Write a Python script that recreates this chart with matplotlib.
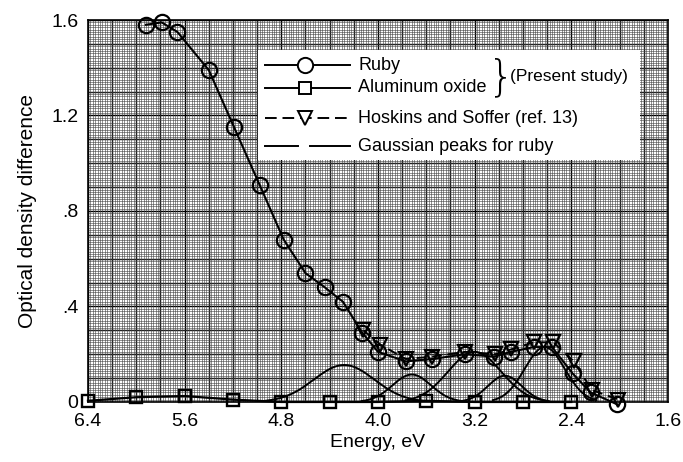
import numpy as np
import matplotlib
matplotlib.use('Agg')
import matplotlib.pyplot as plt
from matplotlib.ticker import MultipleLocator
from matplotlib.lines import Line2D
from matplotlib.patches import Rectangle

plt.rcParams['font.family'] = ['Liberation Sans', 'DejaVu Sans']

# Ruby (present study)
ruby_energy = [5.92, 5.79, 5.66, 5.40, 5.19, 4.98, 4.78, 4.60, 4.44, 4.29, 4.13,
               4.00, 3.77, 3.55, 3.28, 3.04, 2.90, 2.71, 2.56, 2.39, 2.24, 2.02]
ruby_od = [1.58, 1.59, 1.55, 1.39, 1.15, 0.91, 0.68, 0.54, 0.48, 0.42, 0.29,
           0.21, 0.17, 0.18, 0.20, 0.19, 0.21, 0.23, 0.23, 0.12, 0.04, -0.01]

# Aluminum oxide (present study)
al_energy = [6.4, 6.0, 5.6, 5.2, 4.8, 4.4, 4.0, 3.6, 3.2, 2.8, 2.4]
al_od = [0.005, 0.02, 0.025, 0.01, 0.0, 0.0, 0.0, 0.005, 0.0, 0.0, 0.0]

# Hoskins and Soffer (ref. 13)
hs_energy = [4.12, 3.98, 3.77, 3.55, 3.28, 3.03, 2.90, 2.71, 2.55, 2.38, 2.23, 2.01]
hs_od = [0.30, 0.24, 0.18, 0.19, 0.21, 0.20, 0.22, 0.25, 0.25, 0.17, 0.05, 0.01]

# Gaussian peaks for ruby: centre, height, width
peak_centers = [4.28, 3.72, 3.20, 2.95, 2.62]
peak_heights = [0.155, 0.115, 0.21, 0.11, 0.23]
peak_widths = [0.25, 0.16, 0.22, 0.14, 0.165]

x_ticks = [6.4, 5.6, 4.8, 4.0, 3.2, 2.4, 1.6]
x_labels = ['6.4', '5.6', '4.8', '4.0', '3.2', '2.4', '1.6']
y_ticks = [0, 0.4, 0.8, 1.2, 1.6]
y_labels = ['0', '.4', '.8', '1.2', '1.6']

fig = plt.figure(figsize=(6.83, 4.62), dpi=100)
ax = fig.add_axes([0.1288, 0.1299, 0.8492, 0.8268])

ax.set_xlim(6.4, 1.6)
ax.set_ylim(0, 1.6)

# graph paper: fine lines from minor ticks, heavier lines drawn below
ax.xaxis.set_minor_locator(MultipleLocator(0.02))
ax.yaxis.set_minor_locator(MultipleLocator(0.01))
ax.set_xticks(x_ticks, labels=x_labels, fontsize=14)
ax.set_yticks(y_ticks, labels=y_labels, fontsize=14)
ax.grid(which='minor', color='0.25', lw=0.4)
ax.grid(which='major', visible=False)
ax.set_axisbelow(True)
ax.tick_params(which='both', length=0)
ax.tick_params(axis='x', pad=8)
ax.tick_params(axis='y', pad=7)
for s in ax.spines.values():
    s.set_linewidth(1.2)

for xv in np.arange(1.6, 6.41, 0.2):
    ax.axvline(xv, color='black', lw=1.0, zorder=0.5)
for yv in np.arange(0, 1.61, 0.1):
    ax.axhline(yv, color='black', lw=1.0, zorder=0.5)

# gaussian peaks
for c, h, w in zip(peak_centers, peak_heights, peak_widths):
    e = np.linspace(c - 2.6 * w, c + 2.6 * w, 200)
    ax.plot(e, h * np.exp(-(e - c) ** 2 / (2 * w ** 2)), color='black', lw=1.4, zorder=3)

ax.plot(al_energy, al_od, color='black', lw=1.6, marker='s', ms=9, mfc='none',
        mew=1.7, clip_on=False, zorder=4)
ax.plot(hs_energy, hs_od, color='black', lw=1.4, ls=(0, (5, 3)), marker='v', ms=10,
        mfc='none', mew=1.6, clip_on=False, zorder=4)
ax.plot(ruby_energy, ruby_od, color='black', lw=1.5, marker='o', ms=11, mfc='none',
        mew=1.6, clip_on=False, zorder=5)

ax.set_xlabel('Energy, eV', fontsize=14, labelpad=3)
ax.set_ylabel('Optical density difference', fontsize=15, labelpad=10)

# legend drawn by hand
tr = ax.transAxes
ax.add_patch(Rectangle((0.293, 0.634), 0.659, 0.287, transform=tr,
                       facecolor='white', edgecolor='none', zorder=6))
rows = [0.882, 0.822, 0.743, 0.670]
hx0, hx1, hm = 0.305, 0.452, 0.374
ax.add_line(Line2D([hx0, hx1], [rows[0]] * 2, transform=tr, color='black', lw=1.4, zorder=7))
ax.add_line(Line2D([hm], [rows[0]], transform=tr, marker='o', ms=11, mfc='white',
                   mec='black', mew=1.4, zorder=8))
ax.add_line(Line2D([hx0, hx1], [rows[1]] * 2, transform=tr, color='black', lw=1.4, zorder=7))
ax.add_line(Line2D([hm], [rows[1]], transform=tr, marker='s', ms=9, mfc='white',
                   mec='black', mew=1.4, zorder=8))
ax.add_line(Line2D([hx0, hx1], [rows[2]] * 2, transform=tr, color='black', lw=1.4,
                   ls=(0, (6, 3)), zorder=7))
ax.add_line(Line2D([hm], [rows[2]], transform=tr, marker='v', ms=10, mfc='white',
                   mec='black', mew=1.4, zorder=8))
ax.add_line(Line2D([hx0, 0.362], [rows[3]] * 2, transform=tr, color='black', lw=1.4, zorder=7))
ax.add_line(Line2D([0.383, hx1], [rows[3]] * 2, transform=tr, color='black', lw=1.4, zorder=7))

labels = ['Ruby', 'Aluminum oxide', 'Hoskins and Soffer (ref. 13)', 'Gaussian peaks for ruby']
for yv, lab in zip(rows, labels):
    ax.text(0.466, yv, lab, transform=tr, fontsize=13, va='center', ha='left', zorder=8)
ax.text(0.712, 0.850, '}', transform=tr, fontsize=30, va='center', ha='center',
        zorder=8, family='DejaVu Sans', fontweight='ultralight')
ax.text(0.728, 0.852, '(Present study)', transform=tr, fontsize=12.5, va='center',
        ha='left', zorder=8)

fig.savefig('out.png', dpi=100)
